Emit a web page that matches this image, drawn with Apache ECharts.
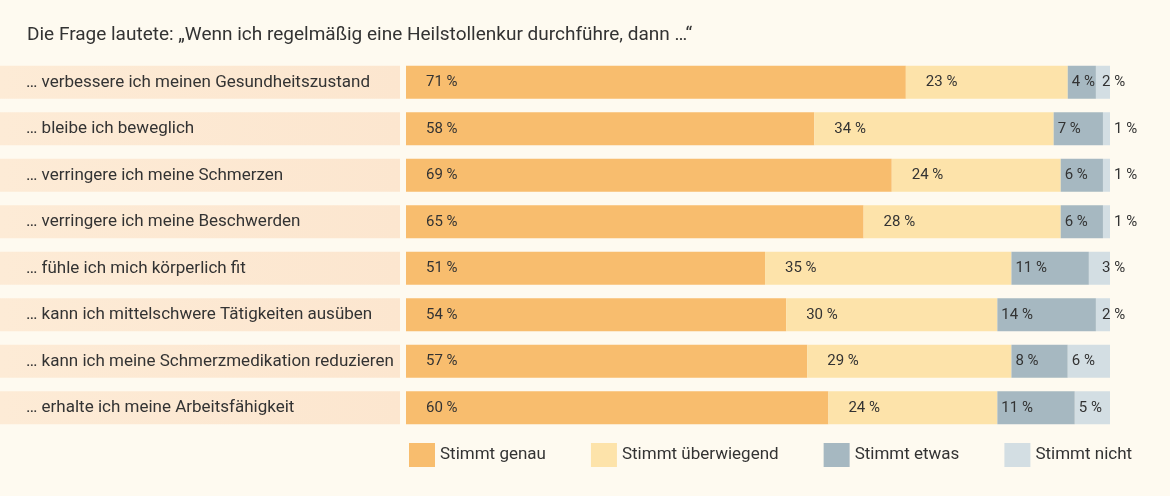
<!DOCTYPE html><html><head><meta charset="utf-8"><script src="https://cdn.jsdelivr.net/npm/echarts@6/dist/echarts.min.js"></script>
<style>html,body{margin:0;background:#fefaf0}#c{width:1170px;height:496px}</style></head><body><div id="c"></div><script>
const categories=["… verbessere ich meinen Gesundheitszustand","… bleibe ich beweglich","… verringere ich meine Schmerzen","… verringere ich meine Beschwerden","… fühle ich mich körperlich fit","… kann ich mittelschwere Tätigkeiten ausüben","… kann ich meine Schmerzmedikation reduzieren","… erhalte ich meine Arbeitsfähigkeit"];
const genau=[71,58,69,65,51,54,57,60];
const ueberwiegend=[23,34,24,28,35,30,29,24];
const etwas=[4,7,6,6,11,14,8,11];
const nicht=[2,1,1,1,3,2,6,5];
const names=["Stimmt genau","Stimmt überwiegend","Stimmt etwas","Stimmt nicht"];
const colors=["#f8bd6e","#fde3aa","#a6b8c1","#d3dee3"];
const data=[genau,ueberwiegend,etwas,nicht];
const chart=echarts.init(document.getElementById('c'));
const series=data.map((arr,i)=>({name:names[i],type:'bar',stack:'s',xAxisIndex:0,yAxisIndex:0,barCategoryGap:'29%',itemStyle:{color:colors[i]},
 data:arr.map(v=>({value:v,label:(i===3&&v<=3)?{position:'right',distance:(v===1?4:-8)}:{}})),
 label:{show:true,position:'insideLeft',distance:i>=2?4:20,formatter:p=>p.value+' %',color:'#333',fontSize:15,fontFamily:'Roboto'}}));
series.push({type:'bar',xAxisIndex:1,yAxisIndex:1,barCategoryGap:'29%',silent:true,data:categories.map(()=>1),
 itemStyle:{color:new echarts.graphic.LinearGradient(0,0,1,0,[{offset:0,color:'#fdebd6'},{offset:1,color:'#fce6cf'}])},
 label:{show:true,position:'insideLeft',distance:26,formatter:p=>categories[p.dataIndex],color:'#333',fontSize:17,fontFamily:'Roboto'}});
chart.setOption({animation:false,backgroundColor:'#fefaf0',
 title:{text:'Die Frage lautete: „Wenn ich regelmäßig eine Heilstollenkur durchführe, dann …“',left:22,top:21,textStyle:{fontSize:19,fontWeight:'normal',color:'#333',fontFamily:'Roboto'}},
 legend:{data:names,bottom:24,left:404,itemWidth:26,itemHeight:24,itemGap:45,icon:'rect',textStyle:{fontSize:17,color:'#333',fontFamily:'Roboto'}},
 grid:[{left:406,right:60,top:59,bottom:65},{left:0,width:400,top:59,bottom:65}],
 xAxis:[{type:'value',min:0,max:100,show:false,gridIndex:0},{type:'value',min:0,max:1,show:false,gridIndex:1}],
 yAxis:[{type:'category',data:categories,inverse:true,show:false,gridIndex:0},{type:'category',data:categories,inverse:true,show:false,gridIndex:1}],
 series});
</script></body></html>
